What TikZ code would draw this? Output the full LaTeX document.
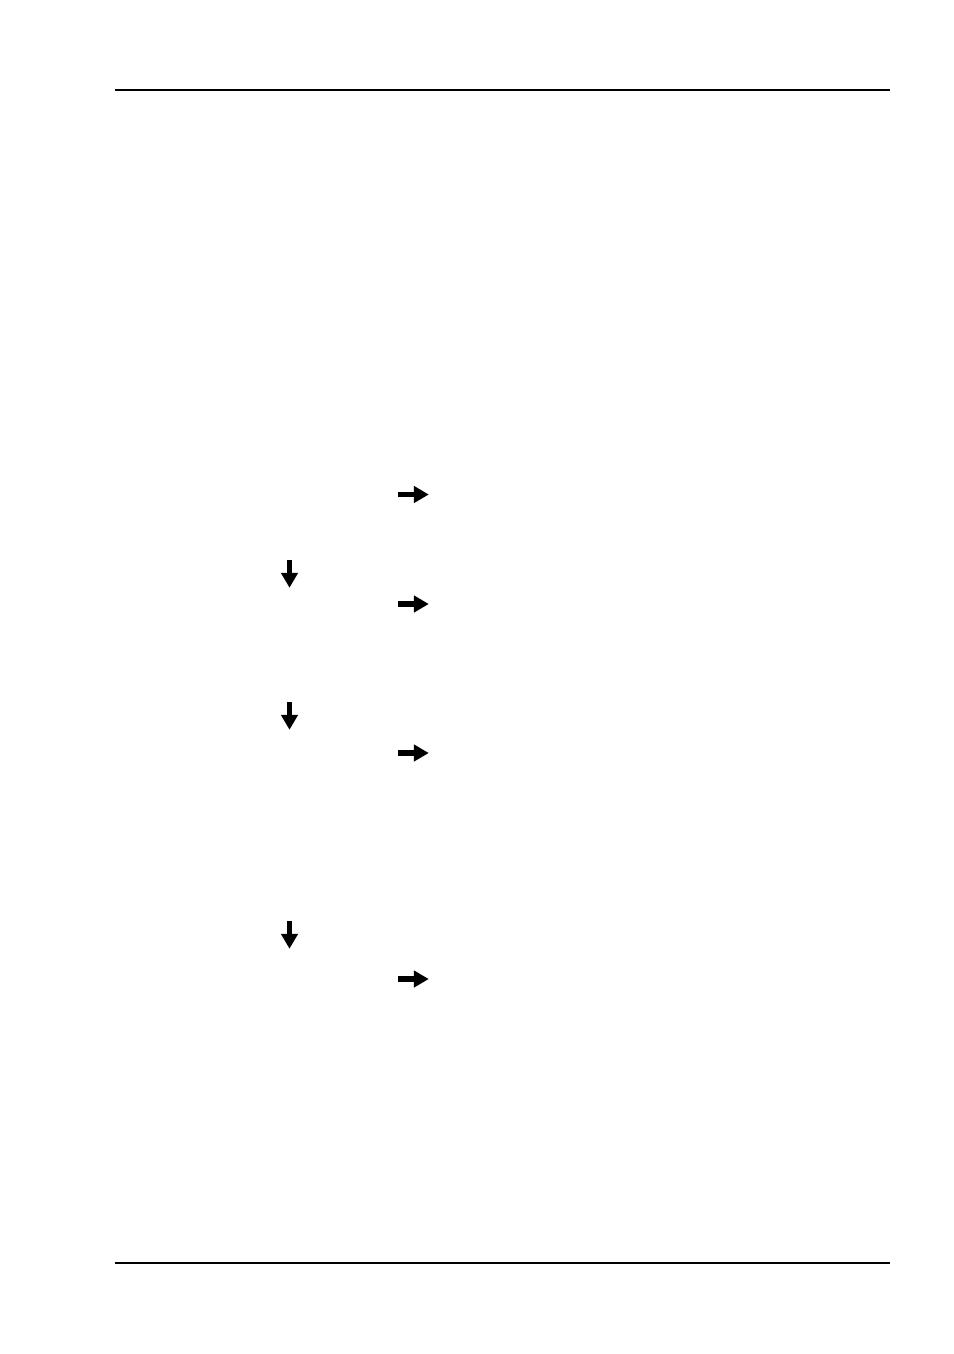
\documentclass[tikz,border=0pt]{standalone}
\usetikzlibrary{arrows.meta}
\begin{document}
\begin{tikzpicture}[x=0.625pt,y=-0.625pt,
  rule/.style={line width=0.9pt,black},
  arr/.style={line width=3.3pt,black,-{Triangle[length=9.4pt,width=10.2pt]},shorten >=-0.5pt}]
\useasboundingbox (0,0) rectangle (954,1354);
\fill[white] (0,0) rectangle (954,1354);
% header and footer rules
\coordinate (hl) at (115,90); \coordinate (hr) at (890,90);
\coordinate (fl) at (115,1263); \coordinate (fr) at (890,1263);
\draw[rule] (hl) -- (hr);
\draw[rule] (fl) -- (fr);
% right arrows
\foreach \y [count=\i] in {494.5,604,753,979}{
  \coordinate (r\i a) at (398,\y);
  \coordinate (r\i b) at (428,\y);
  \draw[arr] (r\i a) -- (r\i b);
}
% down arrows
\foreach \y [count=\i] in {560,702,921}{
  \coordinate (d\i a) at (289.5,\y);
  \coordinate (d\i b) at (289.5,\y+27);
  \draw[arr] (d\i a) -- (d\i b);
}
\end{tikzpicture}
\end{document}
